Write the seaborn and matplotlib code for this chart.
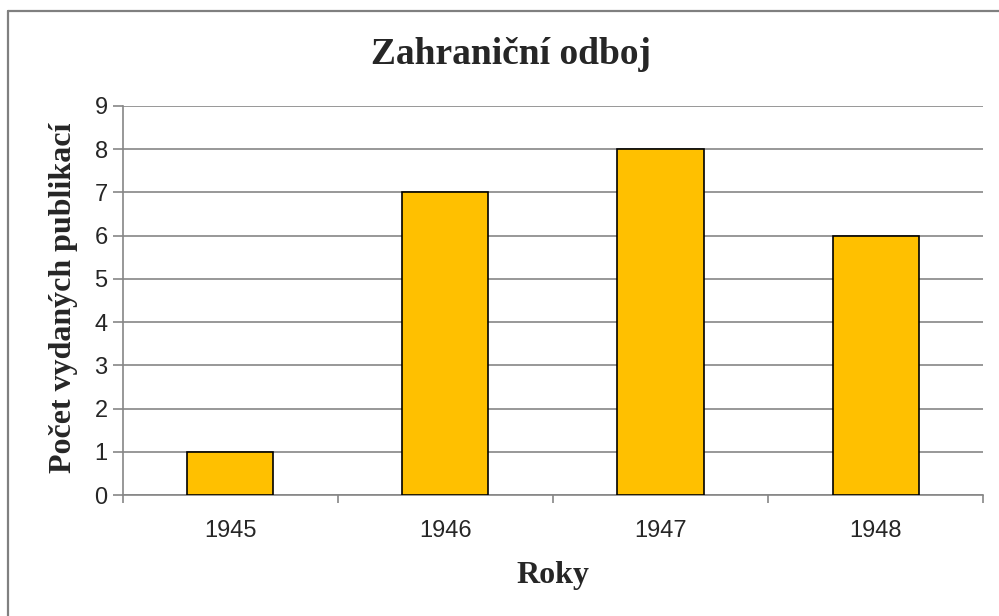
import matplotlib
matplotlib.use("Agg")
import matplotlib.pyplot as plt
import seaborn as sns
import pandas as pd
from matplotlib.lines import Line2D

# data
roky = ["1945", "1946", "1947", "1948"]
pocty = [1, 7, 8, 6]

df = pd.DataFrame({"Roky": roky, "Pocet": pocty})

sns.set_style("white")
plt.rcParams["font.family"] = ["Liberation Sans", "DejaVu Sans"]

fig = plt.figure(figsize=(9.99, 6.16), dpi=100)
ax = fig.add_axes([0.1231, 0.1964, 0.8609, 0.6316])

sns.barplot(data=df, x="Roky", y="Pocet", color="#FFC000", width=0.4,
            edgecolor="black", linewidth=1.2, saturation=1, ax=ax, zorder=3)

ax.set_ylim(0, 9)
ax.set_xlim(-0.5, 3.5)
ax.set_yticks(range(0, 10))
ax.yaxis.grid(True, color="#868686", linewidth=1.2, zorder=0)
ax.set_axisbelow(True)

# tick marks between categories
ax.set_xticks([-0.5, 0.5, 1.5, 2.5, 3.5], minor=True)
ax.tick_params(axis="x", which="major", length=0, labelsize=17, pad=18)
ax.tick_params(axis="x", which="minor", length=6, width=1.2, color="#868686", direction="out")
ax.tick_params(axis="y", length=7, width=1.2, color="#868686", direction="out", labelsize=17, pad=4)
ax.xaxis.set_ticks_position("bottom")
ax.yaxis.set_ticks_position("left")

for s in ["top", "right"]:
    ax.spines[s].set_visible(False)
for s in ["left", "bottom"]:
    ax.spines[s].set_color("#868686")
    ax.spines[s].set_linewidth(1.2)

serif = ["Liberation Serif", "DejaVu Serif"]
ax.set_xlabel("")
ax.set_ylabel("")
fig.text(511 / 999, 1 - 55 / 616, "Zahraniční odboj", fontsize=27, fontweight="bold",
         family=serif, ha="center", va="center")
fig.text(553 / 999, 1 - 576 / 616, "Roky", fontsize=23, fontweight="bold",
         family=serif, ha="center", va="center")
fig.text(64 / 999, 1 - 298 / 616, "Počet vydaných publikací", fontsize=23, fontweight="bold",
         family=serif, ha="center", va="center", rotation=90)

# chart border (only top and left edges visible in the crop)
fig.add_artist(Line2D([7.5 / 999, 1.0], [1 - 10.5 / 616, 1 - 10.5 / 616],
                      transform=fig.transFigure, color="#808080", linewidth=1.6))
fig.add_artist(Line2D([7.5 / 999, 7.5 / 999], [0.0, 1 - 10.5 / 616],
                      transform=fig.transFigure, color="#808080", linewidth=1.6))

fig.savefig("out.png", dpi=100)
